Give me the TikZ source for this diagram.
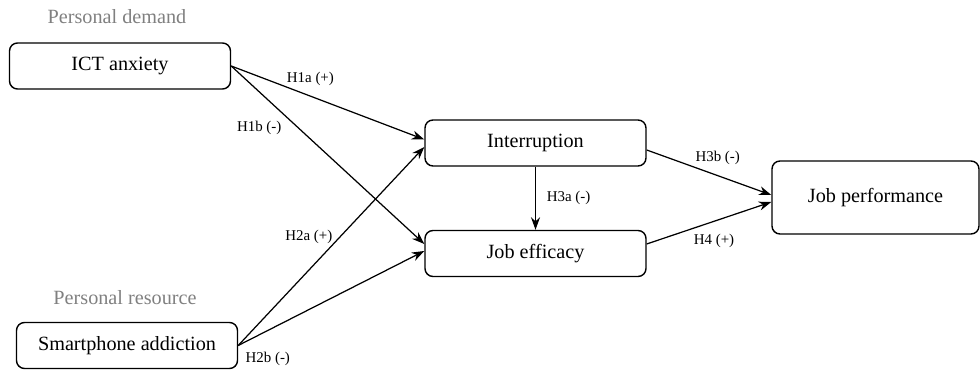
\documentclass[tikz,border=0pt]{standalone}
\usepackage{fontspec}
\setmainfont{Liberation Serif}
\usetikzlibrary{arrows.meta}
\begin{document}
\begin{tikzpicture}[thick,
  box/.style={draw, line width=0.8pt, rounded corners=0.16cm, minimum width=4.42cm, minimum height=0.92cm, font=\fontsize{11.5}{13}\selectfont},
  hyp/.style={font=\fontsize{8.5}{10}\selectfont, inner sep=1pt},
  group/.style={text=black!50, font=\fontsize{11.5}{13}\selectfont},
  link/.style={line width=0.7pt, -{Stealth[length=2.5mm, width=1.8mm]}}]
\useasboundingbox (0,0) rectangle (19.6,7.46);
% variables
\node[box] (ict) at (2.4,6.14) {ICT anxiety};
\node[box] (smart) at (2.54,0.55) {Smartphone addiction};
\node[box] (intr) at (10.71,4.6) {Interruption};
\node[box] (eff) at (10.71,2.39) {Job efficacy};
\node[box, minimum width=4.14cm, minimum height=1.46cm] (perf) at (17.51,3.51) {Job performance};
\node[group] (demand) at (2.34,7.12) {Personal demand};
\node[group] (resource) at (2.5,1.5) {Personal resource};
% paths
\draw[link] (ict.east) -- ([yshift=0.07cm]intr.west) node[hyp, pos=0.41, above, yshift=0.16cm] {H1a (+)};
\draw[link] (ict.east) -- ([yshift=0.19cm]eff.west) node[hyp, pos=0.35, left, xshift=-0.3cm] {H1b (-)};
\draw[link] (smart.east) -- ([yshift=-0.08cm]intr.west) node[hyp, pos=0.545, left, xshift=-0.1cm] {H2a (+)};
\draw[link] (smart.east) -- ([yshift=0.05cm]eff.west) node[hyp, pos=0, below right, xshift=0.1cm, yshift=-0.08cm] {H2b (-)};
\draw[link] (intr.south) -- (eff.north) node[hyp, midway, right, xshift=0.18cm] {H3a (-)};
\draw[link] ([yshift=-0.14cm]intr.east) -- ([yshift=0.05cm]perf.west) node[hyp, pos=0.57, above, yshift=0.18cm] {H3b (-)};
\draw[link] ([yshift=0.19cm]eff.east) -- ([yshift=-0.09cm]perf.west) node[hyp, pos=0.54, below, yshift=-0.2cm] {H4 (+)};
\end{tikzpicture}
\end{document}
